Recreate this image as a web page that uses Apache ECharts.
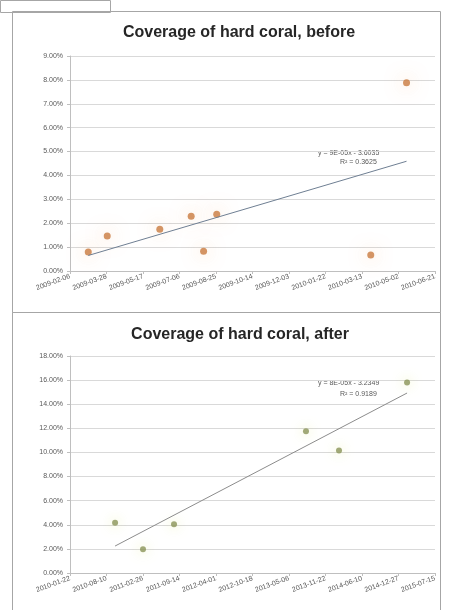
<!DOCTYPE html>
<html>
<head>
<meta charset="utf-8">
<script src="https://cdn.jsdelivr.net/npm/echarts@6/dist/echarts.min.js"></script>
<style>
html,body{margin:0;padding:0;background:#fff;}
#c{width:456px;height:610px;}
</style>
</head>
<body>
<div id="c"></div>
<script>
// ---- data: chart 1 (before) ----
var beforeTitle = 'Coverage of hard coral, before';
var beforeDates = ['2009-03-03','2009-03-29','2009-06-09','2009-07-22','2009-08-08','2009-08-26','2010-03-25','2010-05-13'];
var beforeValues = [0.80, 1.46, 1.75, 2.29, 0.83, 2.38, 0.67, 7.88]; // percent
var beforeAxisStart = '2009-02-06';
var beforeAxisStepDays = 50;
var beforeAxisSteps = 10;
var beforeYMax = 9;
var beforeYStep = 1;
var beforeEquation = ['y = 9E-05x - 3.6035', 'R² = 0.3625'];

// ---- data: chart 2 (after) ----
var afterTitle = 'Coverage of hard coral, after';
var afterDates = ['2010-09-26','2011-02-26','2011-08-15','2013-08-07','2014-02-04','2015-02-12'];
var afterValues = [4.16, 1.98, 4.05, 11.76, 10.17, 15.80]; // percent
var afterAxisStart = '2010-01-22';
var afterAxisStepDays = 200;
var afterAxisSteps = 10;
var afterYMax = 18;
var afterYStep = 2;
var afterEquation = ['y = 8E-05x - 3.2349', 'R² = 0.9189'];

// ---- helpers ----
var DAY = 86400000;
function parse(s){ var p = s.split('-'); return Date.UTC(+p[0], +p[1]-1, +p[2]); }
function dayOffset(s, start){ return Math.round((parse(s) - parse(start)) / DAY); }
function fmtDate(start, d){
  var t = new Date(parse(start) + d * DAY);
  var m = t.getUTCMonth()+1, dd = t.getUTCDate();
  return t.getUTCFullYear() + '-' + (m<10?'0':'') + m + '-' + (dd<10?'0':'') + dd;
}
function regression(xs, ys){
  var n = xs.length, mx=0, my=0, i;
  for(i=0;i<n;i++){ mx+=xs[i]; my+=ys[i]; }
  mx/=n; my/=n;
  var sxy=0, sxx=0;
  for(i=0;i<n;i++){ sxy+=(xs[i]-mx)*(ys[i]-my); sxx+=(xs[i]-mx)*(xs[i]-mx); }
  var b = sxy/sxx, a = my - b*mx;
  var x0 = Math.min.apply(null, xs), x1 = Math.max.apply(null, xs);
  return [[x0, a+b*x0],[x1, a+b*x1]];
}

var bx = beforeDates.map(function(d){ return dayOffset(d, beforeAxisStart); });
var ax = afterDates.map(function(d){ return dayOffset(d, afterAxisStart); });
var beforePts = bx.map(function(x,i){ return [x, beforeValues[i]]; });
var afterPts = ax.map(function(x,i){ return [x, afterValues[i]]; });
var beforeTrend = regression(bx, beforeValues);
var afterTrend = regression(ax, afterValues);

var labelColor = '#595959';
var gridColor = '#d9d9d9';
var axisColor = '#bfbfbf';

function xAxis(gi, start, step, steps){
  return {
    type:'value', gridIndex:gi, min:0, max:step*steps, interval:step,
    axisLine:{show:true, lineStyle:{color:axisColor}},
    axisTick:{show:true, length:3, lineStyle:{color:axisColor}},
    splitLine:{show:false},
    axisLabel:{rotate:20, fontSize:7, color:labelColor, fontFamily:'Liberation Sans', margin:5,
      showMinLabel:true, showMaxLabel:true,
      formatter:function(v){ return fmtDate(start, v); }}
  };
}
function yAxis(gi, max, step){
  return {
    type:'value', gridIndex:gi, min:0, max:max, interval:step,
    axisLine:{show:true, lineStyle:{color:axisColor}},
    axisTick:{show:true, length:3, lineStyle:{color:axisColor}},
    splitLine:{show:true, lineStyle:{color:gridColor}},
    axisLabel:{fontSize:7, color:labelColor, fontFamily:'Liberation Sans', margin:7,
      formatter:function(v){ return v.toFixed(2) + '%'; }}
  };
}

var chart = echarts.init(document.getElementById('c'), null, {renderer:'canvas'});
chart.setOption({
  backgroundColor:'#fff',
  animation:false,
  title:[
    {text:beforeTitle, left:234, top:20, textAlign:'center',
      textStyle:{fontSize:16, fontWeight:'bold', color:'#262626', fontFamily:'Liberation Sans'}},
    {text:afterTitle, left:235, top:322, textAlign:'center',
      textStyle:{fontSize:16, fontWeight:'bold', color:'#262626', fontFamily:'Liberation Sans'}}
  ],
  graphic:[
    {type:'rect', shape:{x:0.5, y:0.5, width:110, height:12}, style:{fill:'none', stroke:'#a6a6a6', lineWidth:1}},
    {type:'rect', shape:{x:12.5, y:11.5, width:428, height:301}, style:{fill:'none', stroke:'#a6a6a6', lineWidth:1}},
    {type:'rect', shape:{x:12.5, y:312.5, width:428, height:300}, style:{fill:'none', stroke:'#a6a6a6', lineWidth:1}},
    {type:'text', left:318, top:150, style:{text:beforeEquation[0], fontSize:7, fill:labelColor, fontFamily:'Liberation Sans'}},
    {type:'text', left:340, top:159, style:{text:beforeEquation[1], fontSize:7, fill:labelColor, fontFamily:'Liberation Sans'}},
    {type:'text', left:318, top:380, style:{text:afterEquation[0], fontSize:7, fill:labelColor, fontFamily:'Liberation Sans'}},
    {type:'text', left:340, top:391, style:{text:afterEquation[1], fontSize:7, fill:labelColor, fontFamily:'Liberation Sans'}}
  ],
  grid:[
    {left:70, right:21, top:56, height:215},
    {left:70, right:21, top:356, height:217}
  ],
  xAxis:[
    xAxis(0, beforeAxisStart, beforeAxisStepDays, beforeAxisSteps),
    xAxis(1, afterAxisStart, afterAxisStepDays, afterAxisSteps)
  ],
  yAxis:[
    yAxis(0, beforeYMax, beforeYStep),
    yAxis(1, afterYMax, afterYStep)
  ],
  series:[
    {type:'line', xAxisIndex:0, yAxisIndex:0, data:beforeTrend, symbol:'none', silent:true,
      lineStyle:{color:'#6f7f93', width:1}},
    {type:'scatter', xAxisIndex:0, yAxisIndex:0, data:beforePts, symbolSize:7,
      itemStyle:{color:'#c97a3e', shadowBlur:18, shadowColor:'rgba(247,150,70,0.7)'}},
    {type:'line', xAxisIndex:1, yAxisIndex:1, data:afterTrend, symbol:'none', silent:true,
      lineStyle:{color:'#8c8c8c', width:1}},
    {type:'scatter', xAxisIndex:1, yAxisIndex:1, data:afterPts, symbolSize:6,
      itemStyle:{color:'#8a9358', shadowBlur:12, shadowColor:'rgba(220,230,110,0.8)'}}
  ]
});
</script>
</body>
</html>
